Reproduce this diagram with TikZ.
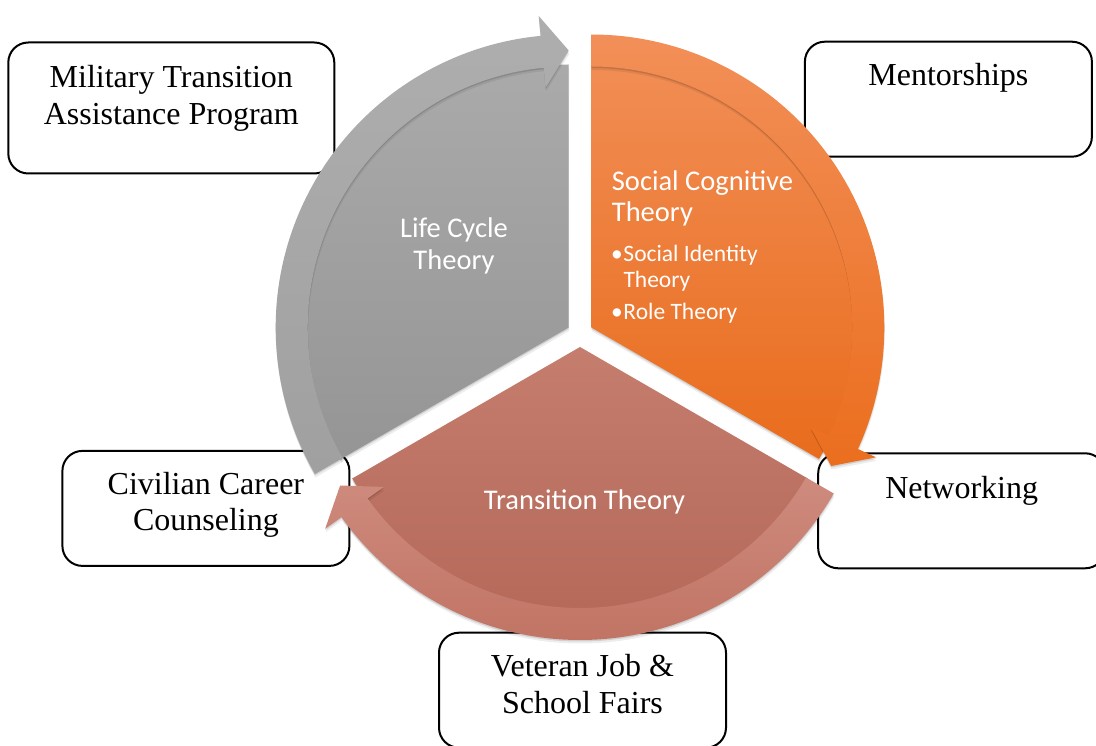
\documentclass[tikz,border=0pt]{standalone}
\usepackage{fontspec}
\setmainfont{Liberation Serif}
\newfontfamily\calfont{Carlito}
\usepackage{tikz}
\usetikzlibrary{shadows}
\usetikzlibrary{positioning}

\definecolor{greyTop}{RGB}{170,170,170}
\definecolor{greyBot}{RGB}{149,149,149}
\definecolor{greyArrTop}{RGB}{174,174,174}
\definecolor{greyArrBot}{RGB}{160,160,160}
\definecolor{orTop}{RGB}{241,141,84}
\definecolor{orBot}{RGB}{233,108,28}
\definecolor{orArrTop}{RGB}{242,143,88}
\definecolor{orArrBot}{RGB}{235,110,30}
\definecolor{rdTop}{RGB}{197,125,110}
\definecolor{rdBot}{RGB}{179,103,87}
\definecolor{rdArrTop}{RGB}{206,139,126}
\definecolor{rdArrBot}{RGB}{193,116,100}

\tikzset{
  box/.style={draw, line width=2pt, rounded corners=20pt, fill=white,
    minimum width=287pt, minimum height=115pt, inner sep=0pt},
  boxtext/.style={anchor=base, align=center, inner sep=0pt,
    font=\fontsize{32}{36.5}\selectfont},
  segtext/.style={text=white, inner sep=0pt, font=\calfont\fontsize{28.5}{31.5}\selectfont},
  soft/.style={drop shadow={shadow xshift=0pt, shadow yshift=-1.5pt, opacity=.12, fill=black},
    drop shadow={shadow xshift=.5pt, shadow yshift=-3.5pt, opacity=.07, fill=black}},
}

\begin{document}
\begin{tikzpicture}[x=1pt, y=1pt]       % segmented cycle
    \path[use as bounding box] (0, 0) rectangle (1096, 745);

    % boxes round the cycle (base anchor = last line)
    \node[box, minimum width=326pt, minimum height=131pt] at (171.3, 637) (tap) {};
    \node[box] at (948.4, 645.8) (ment) {};
    \node[box] at (205.9, 236.6) (civ) {};
    \node[box] at (961.7, 234.2) (net) {};
    \node[box] at (582.5, 54.8) (vet) {};

    \node[boxtext] at ([yshift=-83]tap.north) (tapt) {Military Transition\\Assistance Program};
    \node[boxtext] at ([yshift=-45]ment.north) (mentt) {Mentorships};
    \node[boxtext] at ([yshift=-81]civ.north) (civt) {Civilian Career\\Counseling};
    \node[boxtext] at ([yshift=-46]net.north) (nett) {Networking};
    \node[boxtext] at ([yshift=-81.5]vet.north) (vett) {Veteran Job \&\\School Fairs};

    % life cycle segment
    \begin{scope}[shift={(568.7, 417.5)}]
    \shade[soft, top color=greyTop, bottom color=greyBot] (0, 0) -- (90:263) arc[start angle=90, end angle=210, radius=263] -- cycle;
    \shade[soft, top color=greyArrTop, bottom color=greyArrBot] (210:293) arc[start angle=210, end angle=95.5, radius=293]
      -- (95.5:313) -- (90:277) -- (95.5:241) -- (95.5:261) arc[start angle=95.5, end angle=210, radius=261] -- cycle;
    \end{scope}

    % social cognitive segment
    \begin{scope}[shift={(591.3, 417.5)}]
    \shade[soft, top color=orTop, bottom color=orBot] (0, 0) -- (-30:263) arc[start angle=-30, end angle=90, radius=263] -- cycle;
    \shade[soft, top color=orArrTop, bottom color=orArrBot] (90:293) arc[start angle=90, end angle=-24.5, radius=293]
      -- (-24.5:313) -- (-30:277) -- (-24.5:241) -- (-24.5:261) arc[start angle=-24.5, end angle=90, radius=261] -- cycle;
    \end{scope}

    % transition segment
    \begin{scope}[shift={(580, 398)}]
    \shade[soft, top color=rdTop, bottom color=rdBot] (0, 0) -- (210:263) arc[start angle=210, end angle=330, radius=263] -- cycle;
    \shade[soft, top color=rdArrTop, bottom color=rdArrBot] (330:293) arc[start angle=330, end angle=215.5, radius=293]
      -- (215.5:313) -- (210:277) -- (215.5:241) -- (215.5:261) arc[start angle=215.5, end angle=330, radius=261] -- cycle;
    \end{scope}

    \node[segtext, align=center, anchor=base] at (454, 475.7) (life) {Life Cycle\\Theory};
    \node[segtext, align=left, anchor=base west] at (611.7, 523.3) (social) {Social Cognitive\\Theory};
    \node[segtext, font=\calfont\fontsize{23.5}{25.6}\selectfont, align=left, anchor=base west] at (611, 425.7) (roles)
      {\makebox[12.3pt][l]{\textbullet}Social Identity\\\hspace*{12.3pt}Theory\\[6.4pt]\makebox[12.3pt][l]{\textbullet}Role Theory};
    \node[segtext, anchor=base] at (584.5, 235) (trans) {Transition Theory};
\end{tikzpicture}
\end{document}
